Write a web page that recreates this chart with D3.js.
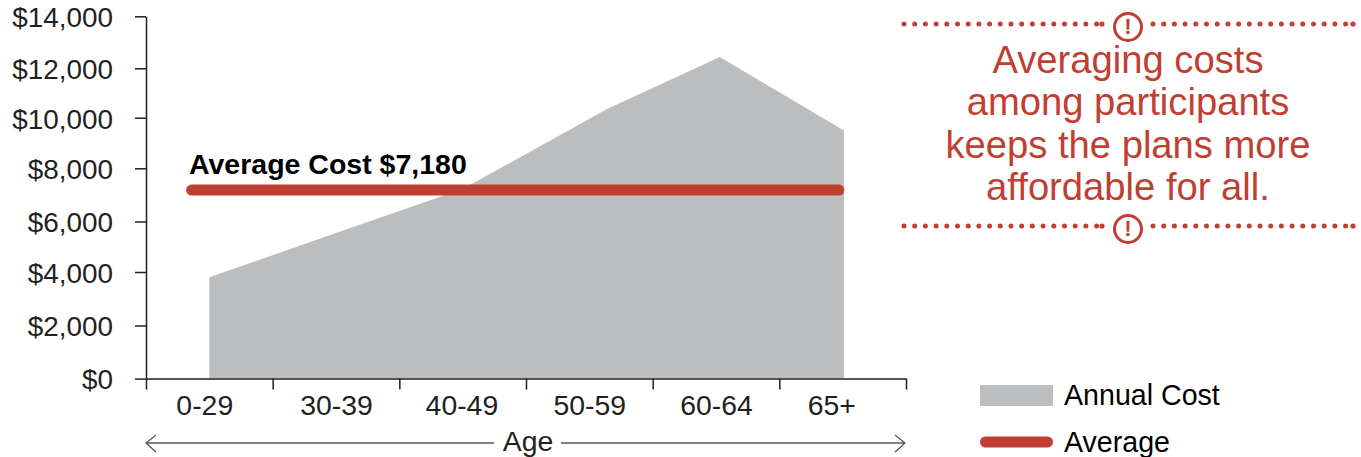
<!DOCTYPE html>
<html>
<head>
<meta charset="utf-8">
<script src="https://cdn.jsdelivr.net/npm/d3@7"></script>
<style>
    html, body { margin: 0; padding: 0; background: #fff; overflow: hidden; }
    text { font-family: "Liberation Sans", Arial, sans-serif; }
</style>
</head>
<body>
<div id="my_dataviz"></div>
<script>
// Data
const age_groups = ["0-29", "30-39", "40-49", "50-59", "60-64", "65+"];
const cost_ticks = [0, 2000, 4000, 6000, 8000, 10000, 12000, 14000];
// The original axis has slightly uneven tick spacing, so the y scale is piecewise
const cost_tick_pixels = [378.6, 325.5, 272, 221.5, 168.3, 117.7, 68.3, 16.3];
// Where each cost point sits along the age axis, in age-group units
const cost_positions = [0.5, 1.5, 2.5, 3.64, 4.53, 5.51];
const annual_cost = [3800, 5545, 7220, 10350, 12435, 9490];
// Where each age label sits, also in age-group units
const label_positions = [0.46, 1.5, 2.49, 3.5, 4.5, 5.41];
const average_span = [0.36, 5.47];
const average_cost = 7180;
const average_label = "Average Cost $7,180";
const note_lines = ["Averaging costs", "among participants", "keeps the plans more", "affordable for all."];
const legend_labels = ["Annual Cost", "Average"];

const RED = "#c13f32", GREY = "#bcbdbf", INK = "#231f20";

const svg = d3.select("#my_dataviz").append("svg")
    .attr("width", 1361)
    .attr("height", 457);

const x_pos = d3.scaleLinear().domain([0, age_groups.length]).range([146, 906]);
const y = d3.scaleLinear().domain(cost_ticks).range(cost_tick_pixels);

// Area
const points = annual_cost.map((v, i) => ({pos: cost_positions[i], value: v}));
svg.append("path")
    .datum(points)
    .attr("fill", GREY)
    .attr("d", d3.area().x(d => x_pos(d.pos)).y0(y(0)).y1(d => y(d.value)));

// Axes
function style_axis(g) {
    g.selectAll("path, line").attr("stroke", INK).attr("stroke-width", 1.5);
    g.selectAll("text").attr("fill", INK).attr("font-size", 28.4).attr("font-family", "Liberation Sans");
}

svg.append("g")
    .attr("transform", "translate(146,0)")
    .call(d3.axisLeft(y).tickValues(cost_ticks).tickSize(11).tickSizeOuter(0).tickPadding(22)
        .tickFormat(d => "$" + d3.format(",")(d)))
    .call(style_axis)
    .call(g => g.selectAll("text").attr("font-size", 27.9).attr("dy", "0.37em"));

svg.append("g")
    .attr("transform", `translate(0,${y(0)})`)
    .call(d3.axisBottom(x_pos).tickValues(d3.range(age_groups.length + 1)).tickSize(11).tickSizeOuter(0)
        .tickFormat(""))
    .call(style_axis);

svg.append("g")
    .attr("transform", `translate(0,${y(0)})`)
    .call(d3.axisBottom(x_pos).tickValues(label_positions).tickSize(0).tickPadding(10)
        .tickFormat((d, i) => age_groups[i]))
    .call(style_axis)
    .call(g => g.select(".domain").remove())
    .call(g => g.selectAll("text").attr("dy", "0.93em"));

// Average line and its label
svg.append("line")
    .attr("x1", x_pos(average_span[0])).attr("x2", x_pos(average_span[1]))
    .attr("y1", y(average_cost)).attr("y2", y(average_cost))
    .attr("stroke", RED).attr("stroke-width", 11).attr("stroke-linecap", "round");

svg.append("text")
    .attr("x", 189).attr("y", 174)
    .attr("font-size", 28.5).attr("font-weight", "bold").attr("fill", "#000")
    .text(average_label);

// Age arrow under the axis
const arrow = svg.append("g").attr("stroke", "#58595b").attr("stroke-width", 1.3).attr("fill", "none");
arrow.append("path").attr("d", "M146,443H494M156,435L146,443L156,452");
arrow.append("path").attr("d", "M561,443H905M895,435L905,443L895,452");
svg.append("text")
    .attr("x", 528).attr("y", 451).attr("text-anchor", "middle")
    .attr("font-size", 28.4).attr("fill", INK)
    .text("Age");

// Callout on the right
svg.append("g").selectAll("text")
    .data(note_lines)
    .join("text")
    .attr("x", 1128)
    .attr("y", (d, i) => 73 + i * 42.4)
    .attr("text-anchor", "middle")
    .attr("font-size", 38.2)
    .attr("fill", RED)
    .text(d => d);

function dotted_rule(cy) {
    const g = svg.append("g").attr("transform", `translate(0,${cy})`);
    [[904, 1098], [1153, 1349]].forEach(([a, b]) => {
        g.append("line")
            .attr("x1", a).attr("x2", b)
            .attr("stroke", RED).attr("stroke-width", 5).attr("stroke-linecap", "round")
            .attr("stroke-dasharray", "0 10.7");
        g.append("circle").attr("cx", b + 4).attr("cy", 0).attr("r", 2.6).attr("fill", RED);
    });
    g.append("circle")
        .attr("cx", 1128).attr("cy", 3).attr("r", 13.5)
        .attr("fill", "#fff").attr("stroke", RED).attr("stroke-width", 3);
    g.append("text")
        .attr("x", 1128).attr("y", 9.7).attr("text-anchor", "middle")
        .attr("font-size", 22).attr("font-weight", "bold").attr("fill", RED)
        .text("!");
}
dotted_rule(24);
dotted_rule(226);

// Legend
svg.append("rect")
    .attr("x", 980).attr("y", 385).attr("width", 73).attr("height", 21)
    .attr("fill", GREY);
svg.append("line")
    .attr("x1", 985.5).attr("x2", 1047.5).attr("y1", 442).attr("y2", 442)
    .attr("stroke", RED).attr("stroke-width", 11).attr("stroke-linecap", "round");
svg.append("g").selectAll("text")
    .data(legend_labels)
    .join("text")
    .attr("x", 1064)
    .attr("y", (d, i) => 405 + i * 47)
    .attr("font-size", 28.6)
    .attr("fill", "#000")
    .text(d => d);
</script>
</body>
</html>
